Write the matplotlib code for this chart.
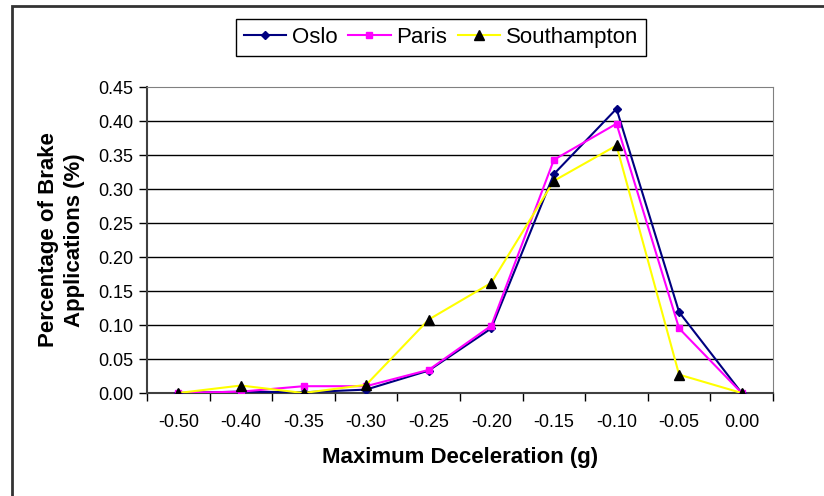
import numpy as np
import matplotlib.pyplot as plt
from matplotlib.patches import Rectangle

plt.rcParams['font.family'] = ['Liberation Sans', 'DejaVu Sans']

# Data
decel = ['-0.50', '-0.40', '-0.35', '-0.30', '-0.25', '-0.20', '-0.15', '-0.10', '-0.05', '0.00']
oslo = [0.000, 0.002, 0.001, 0.005, 0.033, 0.095, 0.322, 0.418, 0.119, 0.000]
paris = [0.000, 0.002, 0.010, 0.010, 0.034, 0.099, 0.343, 0.396, 0.095, 0.000]
southampton = [0.000, 0.011, 0.000, 0.012, 0.108, 0.162, 0.312, 0.364, 0.027, 0.000]
yticks = [0.00, 0.05, 0.10, 0.15, 0.20, 0.25, 0.30, 0.35, 0.40, 0.45]

fig = plt.figure(figsize=(8.24, 4.96), dpi=100)
ax = fig.add_axes([147 / 824, 1 - 393 / 496, 626 / 824, 306 / 496])

x = np.arange(len(decel))
ax.plot(x, oslo, color='#000080', marker='D', markersize=4.5, linewidth=1.5, label='Oslo', zorder=3)
ax.plot(x, paris, color='#FF00FF', marker='s', markersize=5, linewidth=1.5, label='Paris', zorder=4)
ax.plot(x, southampton, color='#FFFF00', marker='^', markersize=7, markerfacecolor='black',
        markeredgecolor='black', linewidth=1.5, label='Southampton', zorder=5)

ax.set_xlim(-0.5, len(decel) - 0.5)
ax.set_ylim(0, 0.45)
ax.set_yticks(yticks)
ax.set_yticklabels(['%.2f' % v for v in yticks])
ax.set_xticks(x)
ax.set_xticklabels(decel)
ax.set_xticks(np.arange(-0.5, len(decel), 1.0), minor=True)
ax.tick_params(axis='x', which='major', length=0, pad=15, labelsize=13)
ax.tick_params(axis='x', which='minor', length=6, width=1, direction='out')
ax.tick_params(axis='y', length=6, width=1, direction='out', labelsize=13, pad=4)

for v in yticks[1:-1]:
    ax.axhline(v, color='black', linewidth=1, zorder=1)

for s in ['top', 'right']:
    ax.spines[s].set_color('#808080')
for s in ['left', 'bottom']:
    ax.spines[s].set_color('#404040')
    ax.spines[s].set_linewidth(1.5)

ax.set_xlabel('Maximum Deceleration (g)', fontsize=16, fontweight='bold', labelpad=12)
ax.set_ylabel('Percentage of Brake\nApplications (%)', fontsize=16, fontweight='bold',
              labelpad=9, linespacing=1.35)

fig.legend(loc='center', bbox_to_anchor=(441 / 824, 1 - 37.5 / 496), ncol=3, fontsize=16,
           frameon=True, fancybox=False, edgecolor='black', framealpha=1,
           handlelength=1.9, handletextpad=0.25, columnspacing=0.5, borderpad=0.35)

# outer chart border
fig.patches.append(Rectangle((12 / 824, -0.05), 1.0, 1 - 6 / 496 + 0.05, transform=fig.transFigure,
                             fill=False, edgecolor='#333333', linewidth=2))

fig.savefig('out.png', dpi=100)
